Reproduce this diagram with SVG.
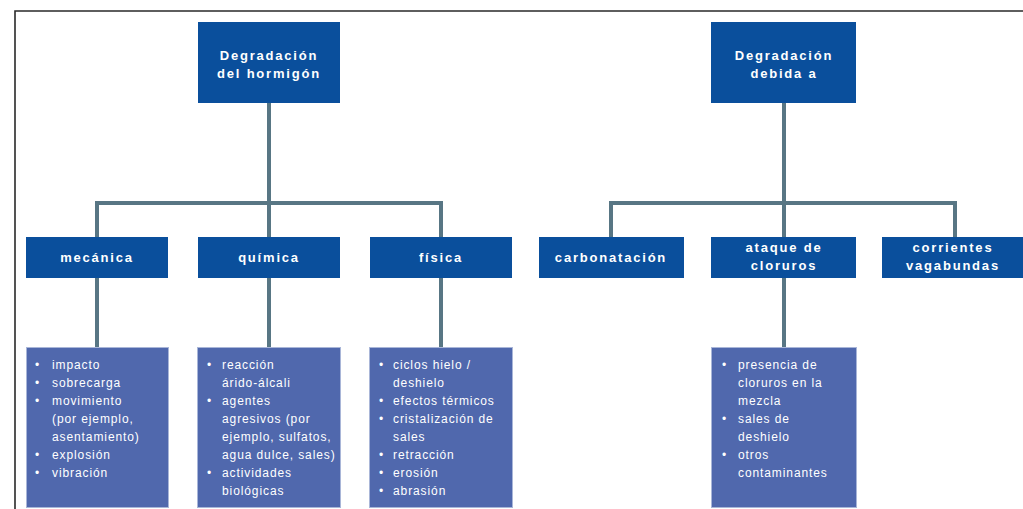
<svg xmlns="http://www.w3.org/2000/svg" width="1023" height="509" viewBox="0 0 1023 509">
  <style>
    .head { fill: #0a4f9c; }
    .list { fill: #5068ad; stroke: #a9b6d8; stroke-width: 1; }
    .t { font-family: "Liberation Sans", Arial, sans-serif; fill: #ffffff; }
    .th { font-size: 13px; font-weight: bold; letter-spacing: 1.8px; text-anchor: middle; }
    .tl { font-size: 12px; letter-spacing: 0.9px; }
    .conn { fill: none; stroke: #587684; stroke-width: 4; }
  </style>
  <rect width="1023" height="509" fill="#ffffff"/>
  <!-- page frame -->
  <path d="M15,509 V11 H1023" fill="none" stroke="#2a2a2a" stroke-width="1.6"/>

  <g id="connectors" class="conn">
    <path d="M269,103 V203 M97,237 V203 H441 V237 M269,203 V237"/>
    <path d="M97,278 V347 M269,278 V347 M441,278 V347"/>
    <path d="M784,103 V203 M611,237 V203 H955 V237 M784,203 V237"/>
    <path d="M784,278 V347"/>
  </g>

  <g id="degradacion-hormigon">
    <rect class="head" x="198" y="22" width="142" height="81"/>
    <text class="t th" x="269" y="60">Degradación</text>
    <text class="t th" x="269" y="78">del hormigón</text>
  </g>
  <g id="degradacion-debida">
    <rect class="head" x="711" y="22" width="145" height="81"/>
    <text class="t th" x="784" y="60">Degradación</text>
    <text class="t th" x="784" y="78">debida a</text>
  </g>

  <g id="mecanica">
    <rect class="head" x="26" y="237" width="142" height="41"/>
    <text class="t th" x="97" y="262">mecánica</text>
  </g>
  <g id="quimica">
    <rect class="head" x="198" y="237" width="142" height="41"/>
    <text class="t th" x="269" y="262">química</text>
  </g>
  <g id="fisica">
    <rect class="head" x="370" y="237" width="142" height="41"/>
    <text class="t th" x="441" y="262">física</text>
  </g>
  <g id="carbonatacion">
    <rect class="head" x="539" y="237" width="145" height="41"/>
    <text class="t th" x="611" y="262">carbonatación</text>
  </g>
  <g id="ataque-cloruros">
    <rect class="head" x="711" y="237" width="145" height="41"/>
    <text class="t th" x="784" y="252">ataque de</text>
    <text class="t th" x="784" y="270">cloruros</text>
  </g>
  <g id="corrientes">
    <rect class="head" x="882" y="237" width="141" height="41"/>
    <text class="t th" x="953" y="252">corrientes</text>
    <text class="t th" x="953" y="270">vagabundas</text>
  </g>

  <g id="lista-mecanica">
    <rect class="list" x="26.5" y="347.5" width="142" height="160"/>
    <g class="t tl">
      <text x="35" y="369">•</text><text x="52" y="369">impacto</text>
      <text x="35" y="387">•</text><text x="52" y="387">sobrecarga</text>
      <text x="35" y="405">•</text><text x="52" y="405">movimiento</text>
      <text x="52" y="423">(por ejemplo,</text>
      <text x="52" y="441">asentamiento)</text>
      <text x="35" y="459">•</text><text x="52" y="459">explosión</text>
      <text x="35" y="477">•</text><text x="52" y="477">vibración</text>
    </g>
  </g>
  <g id="lista-quimica">
    <rect class="list" x="197.5" y="347.5" width="143" height="160"/>
    <g class="t tl">
      <text x="207" y="369">•</text><text x="222" y="369">reacción</text>
      <text x="222" y="387">árido-álcali</text>
      <text x="207" y="405">•</text><text x="222" y="405">agentes</text>
      <text x="222" y="423">agresivos (por</text>
      <text x="222" y="441">ejemplo, sulfatos,</text>
      <text x="222" y="459">agua dulce, sales)</text>
      <text x="207" y="477">•</text><text x="222" y="477">actividades</text>
      <text x="222" y="495">biológicas</text>
    </g>
  </g>
  <g id="lista-fisica">
    <rect class="list" x="369.5" y="347.5" width="143" height="160"/>
    <g class="t tl">
      <text x="379" y="369">•</text><text x="393" y="369">ciclos hielo /</text>
      <text x="393" y="387">deshielo</text>
      <text x="379" y="405">•</text><text x="393" y="405">efectos térmicos</text>
      <text x="379" y="423">•</text><text x="393" y="423">cristalización de</text>
      <text x="393" y="441">sales</text>
      <text x="379" y="459">•</text><text x="393" y="459">retracción</text>
      <text x="379" y="477">•</text><text x="393" y="477">erosión</text>
      <text x="379" y="495">•</text><text x="393" y="495">abrasión</text>
    </g>
  </g>
  <g id="lista-cloruros">
    <rect class="list" x="711.5" y="347.5" width="145" height="160"/>
    <g class="t tl">
      <text x="722" y="369">•</text><text x="738" y="369">presencia de</text>
      <text x="738" y="387">cloruros en la</text>
      <text x="738" y="405">mezcla</text>
      <text x="722" y="423">•</text><text x="738" y="423">sales de</text>
      <text x="738" y="441">deshielo</text>
      <text x="722" y="459">•</text><text x="738" y="459">otros</text>
      <text x="738" y="477">contaminantes</text>
    </g>
  </g>
</svg>
